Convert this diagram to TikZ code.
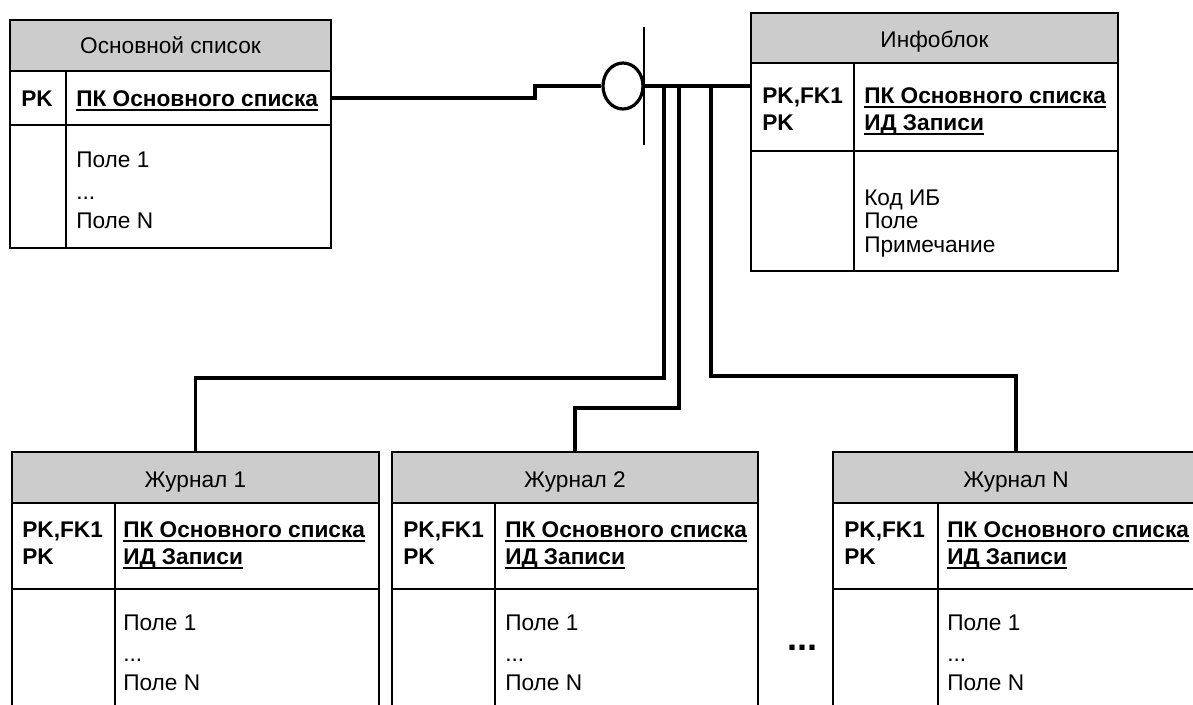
\documentclass[tikz,border=0pt]{standalone}
\usepackage{fontspec}
\setmainfont{Liberation Sans}
\usetikzlibrary{shapes.geometric}
\definecolor{hdrgray}{RGB}{204,204,204}
\newcommand\ulx[1]{\leavevmode\setbox0\hbox{#1}\rlap{\rule[-3.4pt]{\wd0}{1.3pt}}\box0}
\tikzset{
 part/.style={draw, line width=1.5pt, anchor=north west, inner sep=0, outer sep=0},
 hdr/.style={part, fill=hdrgray},
 divl/.style={line width=1.3pt},
 conn/.style={line width=2.4pt},
 txt/.style={anchor=base west, inner sep=0, font=\fontsize{17}{20}\selectfont},
 htxt/.style={anchor=base, inner sep=0, font=\fontsize{17}{20}\selectfont},
 btxt/.style={anchor=base west, inner sep=0, font=\fontsize{17}{20}\selectfont\bfseries},
}
\newcommand\ertab[8]{%
 \node[hdr, minimum width=#4*0.75pt, minimum height=#5*0.75pt] (#1-h) at (#2,#3) {};
 \node[part, minimum width=#4*0.75pt, minimum height=#6*0.75pt] (#1-k) at (#2,#3+#5) {};
 \node[part, minimum width=#4*0.75pt, minimum height=#7*0.75pt] (#1-b) at (#2,#3+#5+#6) {};
 \draw[divl] ([xshift=#8*0.75pt]#1-k.north west) -- ([xshift=#8*0.75pt]#1-b.south west);
}
\begin{document}
\begin{tikzpicture}[x=0.75pt,y=-0.75pt]
\useasboundingbox (0,0) rectangle (1193,704);
\clip (0,0) rectangle (1193,704);
\fill[white] (0,0) rectangle (1193,704);

% tables
\ertab{ms}{10}{20}{321}{51}{54}{123}{56}
\ertab{ib}{751}{13}{367}{50}{88}{120}{103}
\ertab{ja}{12}{452}{367}{51}{86}{200}{103}
\ertab{jb}{392}{452}{366}{51}{86}{200}{103}
\ertab{jn}{833}{452}{366}{51}{86}{200}{105}

% Основной список
\node[htxt] (ms-t) at (170.5,53) {Основной список};
\node[btxt] (ms-pk) at (21,106) {PK};
\node[btxt] (ms-f) at (76,106) {\ulx{ПК Основного списка}};
\node[txt] (ms-1) at (76,167) {Поле 1};
\node[txt] (ms-2) at (76,199) {...};
\node[txt] (ms-3) at (76,228) {Поле N};

% Инфоблок
\node[htxt] (ib-t) at (934.5,47) {Инфоблок};
\node[btxt] (ib-pk1) at (762,103) {PK,FK1};
\node[btxt] (ib-pk2) at (762,130) {PK};
\node[btxt] (ib-f1) at (864,103) {\ulx{ПК Основного списка}};
\node[btxt] (ib-f2) at (864,130) {\ulx{ИД Записи}};
\node[txt] (ib-1) at (864,205) {Код ИБ};
\node[txt] (ib-2) at (864,228) {Поле};
\node[txt] (ib-3) at (864,252) {Примечание};

% Журналы
\foreach \n/\t/\xa/\xb in {ja/Журнал 1/22/123, jb/Журнал 2/403/505, jn/Журнал N/844/947}{
 \node[htxt] (\n-t) at ([yshift=-35*0.75pt]\n-h.north) {\t};
 \node[btxt] (\n-pk1) at (\xa,537) {PK,FK1};
 \node[btxt] (\n-pk2) at (\xa,564) {PK};
 \node[btxt] (\n-f1) at (\xb,537) {\ulx{ПК Основного списка}};
 \node[btxt] (\n-f2) at (\xb,564) {\ulx{ИД Записи}};
 \node[txt] (\n-1) at (\xb,630) {Поле 1};
 \node[txt] (\n-2) at (\xb,661) {...};
 \node[txt] (\n-3) at (\xb,690) {Поле N};
}
\node[anchor=base west, inner sep=0, font=\fontsize{27}{30}\selectfont\bfseries] (dots) at (787,650) {...};

% relationship symbol
\node[ellipse, draw, line width=2.4pt, minimum width=40*0.75pt, minimum height=46*0.75pt, inner sep=0] (circ) at (623,86) {};
\coordinate (bart) at (644,27);
\coordinate (barb) at (644,145);
\draw[line width=2pt] (bart) -- (barb);

% connectors
\coordinate (stepx) at (535,0);
\draw[conn] (ms-k.east) -- (ms-k.east -| stepx) -- (stepx |- circ.west) -- (circ.west);
\draw[conn] (circ.east) -- (circ.east -| ib-k.west);
\coordinate (d1) at (664,86);
\coordinate (d2) at (679,86);
\coordinate (d3) at (711,86);
\coordinate (b1) at (664,378);
\coordinate (b2) at (679,408);
\coordinate (b3) at (711,376);
\draw[conn, line join=miter] (d1) -- (b1) -| (ja-h.north);
\draw[conn, line join=miter] (d2) -- (b2) -| (jb-h.north);
\draw[conn, line join=miter] (d3) -- (b3) -| (jn-h.north);
\end{tikzpicture}
\end{document}
